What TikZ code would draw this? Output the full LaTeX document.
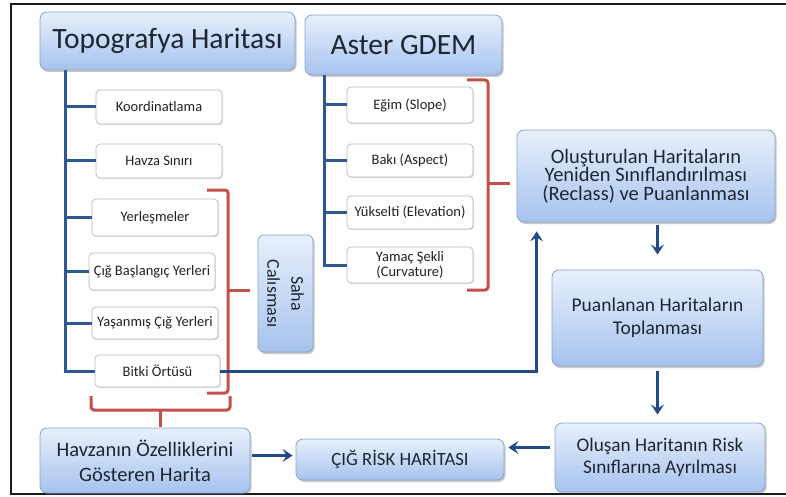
\documentclass[tikz,border=0pt]{standalone}
\usepackage{fontspec}
\setmainfont{Carlito}
\usetikzlibrary{shadows,arrows.meta,calc}
\definecolor{boxtop}{HTML}{E8F0FC}
\definecolor{boxbot}{HTML}{A6C3EE}
\definecolor{boxedge}{HTML}{8AA3C6}
\definecolor{subedge}{HTML}{AEBBCE}
\definecolor{linkblue}{HTML}{2D5894}
\definecolor{arrblue}{HTML}{204B86}
\definecolor{brk}{HTML}{C4504C}
\definecolor{txt}{HTML}{1E2632}
\definecolor{subtxt}{HTML}{222222}
\begin{document}
\begin{tikzpicture}[x=1pt,y=-1pt,
  bigbox/.style={draw=boxedge, line width=0.8pt, rounded corners=7pt,
    top color=boxtop, bottom color=boxbot, align=center, text=txt, inner sep=0pt,
    drop shadow={shadow xshift=1.5pt, shadow yshift=-2pt, opacity=0.3, fill=black!70}},
  subbox/.style={draw=subedge, line width=0.7pt, rounded corners=4pt, fill=white,
    align=center, text=subtxt, inner sep=0pt, font=\fontsize{14.5}{16}\selectfont,
    drop shadow={shadow xshift=1pt, shadow yshift=-1.2pt, opacity=0.2, fill=black!60}},
  spine/.style={draw=linkblue, line width=3pt},
  arr/.style={draw=arrblue, line width=3pt, -{Stealth[length=10pt,width=13pt,inset=4pt]}},
  redb/.style={draw=brk, line width=3pt, rounded corners=3pt},
  titlefont/.style={font=\fontsize{29.5}{32}\selectfont}
]
\useasboundingbox (0,0) rectangle (786,497);

% outer frame (open to the right)
\draw[line width=2.8pt, black!90] (792,4) -- (11,4) -- (11,494) -- (792,494);

% source maps
\node[bigbox, titlefont, minimum width=255pt, minimum height=58pt] (topo) at (167.5,41) {Topografya Haritası};
\node[bigbox, titlefont, minimum width=197pt, minimum height=60pt] (aster) at (403.5,45) {Aster GDEM};

% layers from the topographic map
\node[subbox, minimum width=126pt, minimum height=34pt] (koord) at (159,107) {Koordinatlama};
\node[subbox, minimum width=126pt, minimum height=34pt] (havza) at (159,161) {Havza Sınırı};
\node[subbox, minimum width=126pt, minimum height=37pt] (yerl) at (155,217.5) {Yerleşmeler};
\node[subbox, minimum width=126pt, minimum height=37pt] (cigb) at (152,271.5) {Çığ Başlangıç Yerleri};
\node[subbox, minimum width=126pt, minimum height=32pt] (yasan) at (155,323) {Yaşanmış Çığ Yerleri};
\node[subbox, minimum width=125pt, minimum height=32pt] (bitki) at (157.5,371) {Bitki Örtüsü};

% layers derived from the DEM
\node[subbox, minimum width=126pt, minimum height=36pt] (egim) at (410,105) {Eğim (Slope)};
\node[subbox, minimum width=126pt, minimum height=33pt] (baki) at (410,160.5) {Bakı (Aspect)};
\node[subbox, minimum width=126pt, minimum height=33pt] (yuks) at (410,212.5) {Yükselti (Elevation)};
\node[subbox, minimum width=126pt, minimum height=36pt] (yamac) at (410,265) {Yamaç Şekli\\[-1pt](Curvature)};

% field work box with vertical text
\node[bigbox, rounded corners=6pt, minimum width=55pt, minimum height=117pt] (saha) at (285.5,293.5) {};
\node[rotate=-90, align=center, text=txt, font=\fontsize{18}{24}\selectfont] (sahatxt) at (saha.center) {Saha\\Calısması};

% processing chain
\node[bigbox, minimum width=258pt, minimum height=92pt, font=\fontsize{20.5}{18.5}\selectfont] (olus) at (646,176)
  {Oluşturulan Haritaların\\Yeniden Sınıflandırılması\\(Reclass) ve Puanlanması};
\node[bigbox, minimum width=211pt, minimum height=96pt, font=\fontsize{19.5}{23}\selectfont] (puan) at (657.5,318)
  {Puanlanan Haritaların\\Toplanması};
\node[bigbox, minimum width=210pt, minimum height=69pt, font=\fontsize{19.3}{22}\selectfont] (olusan) at (660,457.5)
  {Oluşan Haritanın Risk\\Sınıflarına Ayrılması};
\node[bigbox, minimum width=208pt, minimum height=41pt, font=\fontsize{18.7}{21}\selectfont] (cig) at (400,459.5)
  {ÇIĞ RİSK HARİTASI};
\node[bigbox, minimum width=210pt, minimum height=65pt, font=\fontsize{20.5}{25}\selectfont] (havz) at (145,460.5)
  {Havzanın Özelliklerini\\Gösteren Harita};

% tree connectors
\coordinate (tsp) at ([xshift=26pt]topo.south west);
\draw[spine] (tsp) |- (bitki.west);
\foreach \n in {koord,havza,yerl,cigb,yasan}
  \draw[spine] (tsp |- \n.west) -- (\n.west);
\coordinate (asp) at ([xshift=20pt]aster.south west);
\draw[spine] (asp) |- ([yshift=-2pt]yamac.west -| asp);
\foreach \n in {egim,baki,yuks,yamac}
  \draw[spine] (asp |- \n.west) -- (\n.west);

% grouping brackets
\draw[redb] (207,190) -- (228,190) -- (228,393) -- (207,393);
\draw[redb] (228,290) -- (250,290);
\draw[redb] (91,396) -- (91,410) -- (230,410) -- (230,396);
\draw[redb] (160,410) -- (160,427);
\draw[redb] (467,80) -- (488,80) -- (488,290) -- (467,290);
\draw[redb] (488,183) -- (510,183);

% flow arrows
\draw[arr] (bitki.east) -| ([xshift=20pt,yshift=-9pt]olus.south west);
\draw[arr, shorten <=3pt] (olus.south -| puan.north) -- ([yshift=15pt]puan.north);
\draw[arr, shorten <=5pt, shorten >=8pt] (puan.south) -- (puan.south |- olusan.north);
\draw[arr, shorten <=5pt, shorten >=4pt] ([yshift=10pt]olusan.west) -- ([yshift=10pt]olusan.west -| cig.east);
\draw[arr, shorten <=2pt, shorten >=3pt] ([yshift=5pt]havz.east) -- ([yshift=5pt]havz.east -| cig.west);
\end{tikzpicture}
\end{document}
